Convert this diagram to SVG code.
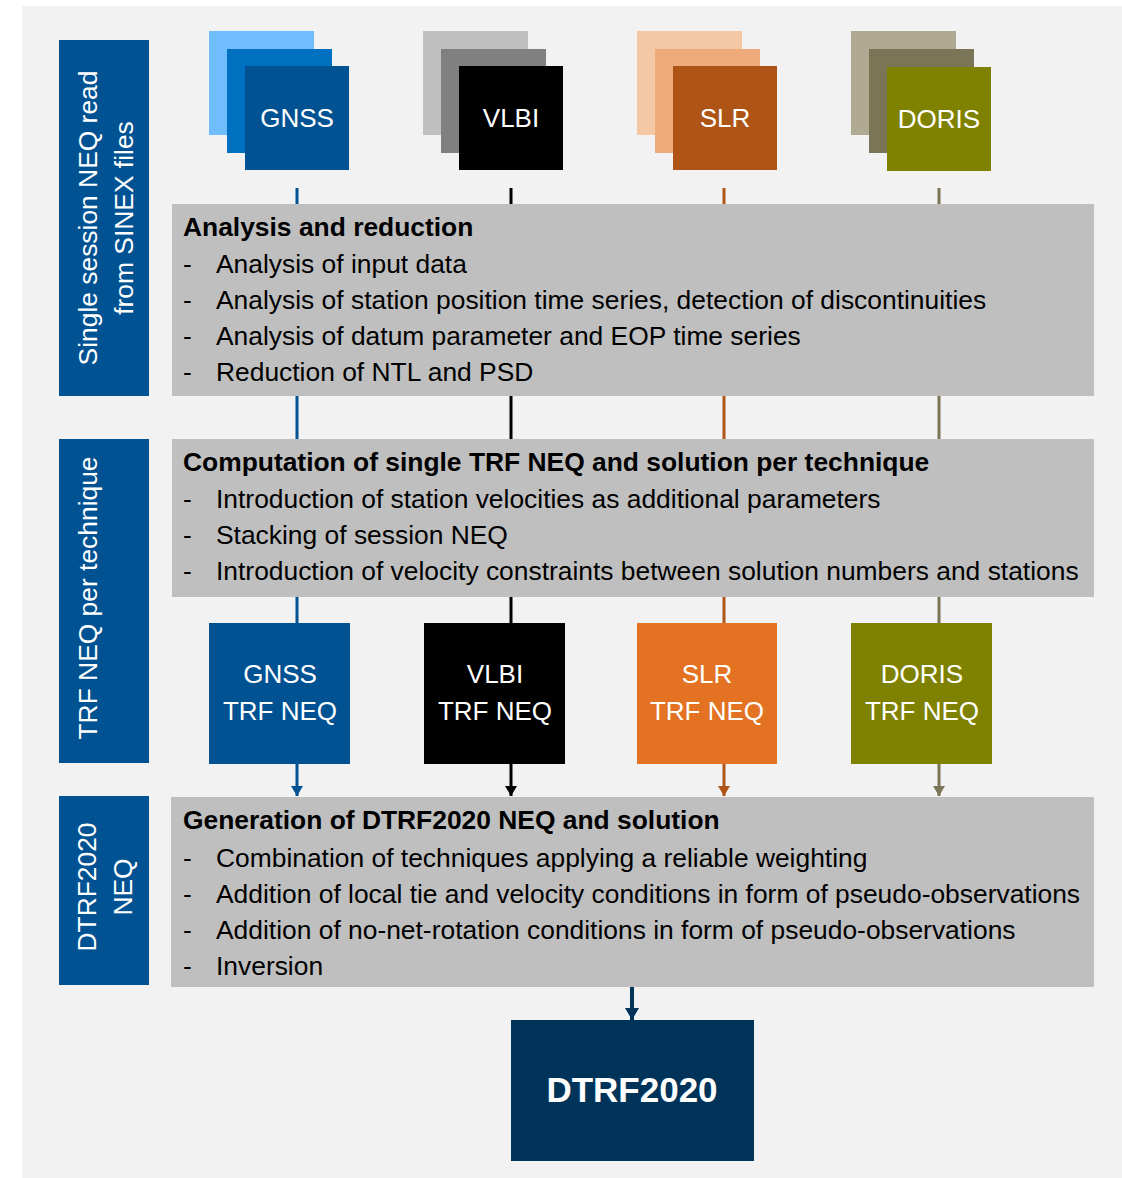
<svg xmlns="http://www.w3.org/2000/svg" width="1122" height="1178" viewBox="0 0 1122 1178">
<defs>
<style>
text{font-family:"Liberation Sans",Arial,sans-serif;}
.wc{fill:#fff;font-size:26px;text-anchor:middle;}
.wl{fill:#fff;font-size:26.4px;text-anchor:middle;}
.b{fill:#000;font-size:26.4px;}
.bt{fill:#000;font-size:26.4px;font-weight:bold;}
.gray{fill:#bfbfbf;}
.lbl{fill:#005293;}
.ln{stroke-width:3;fill:none;}
</style>
<marker id="aG" markerUnits="userSpaceOnUse" markerWidth="12" markerHeight="12" refX="10" refY="6" orient="auto"><path d="M0,0 L10,6 L0,12 Z" fill="#005293"/></marker>
<marker id="aV" markerUnits="userSpaceOnUse" markerWidth="12" markerHeight="12" refX="10" refY="6" orient="auto"><path d="M0,0 L10,6 L0,12 Z" fill="#000"/></marker>
<marker id="aS" markerUnits="userSpaceOnUse" markerWidth="12" markerHeight="12" refX="10" refY="6" orient="auto"><path d="M0,0 L10,6 L0,12 Z" fill="#ae5416"/></marker>
<marker id="aD" markerUnits="userSpaceOnUse" markerWidth="12" markerHeight="12" refX="10" refY="6" orient="auto"><path d="M0,0 L10,6 L0,12 Z" fill="#7b7558"/></marker>
<marker id="aT" markerUnits="userSpaceOnUse" markerWidth="14" markerHeight="14" refX="12" refY="7" orient="auto"><path d="M0,0 L12,7 L0,14 Z" fill="#003359"/></marker>
</defs>
<rect x="22" y="6" width="1100" height="1172" fill="#f2f2f2"/>

<g id="connectors">
<g stroke="#005293" class="ln">
<line x1="297" y1="188" x2="297" y2="204"/>
<line x1="297" y1="396" x2="297" y2="439"/>
<line x1="297" y1="597" x2="297" y2="623"/>
<line x1="297" y1="764" x2="297" y2="796" marker-end="url(#aG)"/>
</g>
<g stroke="#000" class="ln">
<line x1="511" y1="188" x2="511" y2="204"/>
<line x1="511" y1="396" x2="511" y2="439"/>
<line x1="511" y1="597" x2="511" y2="623"/>
<line x1="511" y1="764" x2="511" y2="796" marker-end="url(#aV)"/>
</g>
<g stroke="#ae5416" class="ln">
<line x1="724" y1="188" x2="724" y2="204"/>
<line x1="724" y1="396" x2="724" y2="439"/>
<line x1="724" y1="597" x2="724" y2="623"/>
<line x1="724" y1="764" x2="724" y2="796" marker-end="url(#aS)"/>
</g>
<g stroke="#7b7558" class="ln">
<line x1="939" y1="188" x2="939" y2="204"/>
<line x1="939" y1="396" x2="939" y2="439"/>
<line x1="939" y1="597" x2="939" y2="623"/>
<line x1="939" y1="764" x2="939" y2="796" marker-end="url(#aD)"/>
</g>
<line x1="632" y1="987" x2="632" y2="1020" stroke="#003359" stroke-width="4" marker-end="url(#aT)"/>
</g>

<g id="label-sinex">
<rect class="lbl" x="59" y="40" width="90" height="356"/>
<text class="wl" transform="translate(97,218) rotate(-90)">Single session NEQ read</text>
<text class="wl" transform="translate(133,218) rotate(-90)">from SINEX files</text>
</g>
<g id="label-trf">
<rect class="lbl" x="59" y="439" width="90" height="324"/>
<text class="wl" transform="translate(97,598) rotate(-90)">TRF NEQ per technique</text>
</g>
<g id="label-dtrf">
<rect class="lbl" x="59" y="796" width="90" height="189"/>
<text class="wl" transform="translate(96,887) rotate(-90)">DTRF2020</text>
<text class="wl" transform="translate(132,887) rotate(-90)">NEQ</text>
</g>

<g id="gnss-stack">
<rect x="209" y="31" width="105" height="104" fill="#6fbdff"/>
<rect x="227" y="49" width="105" height="104" fill="#0070c0"/>
<rect x="245" y="66" width="104" height="104" fill="#005293"/>
<text class="wc" x="297" y="127">GNSS</text>
</g>
<g id="vlbi-stack">
<rect x="423" y="31" width="105" height="104" fill="#bfbfbf"/>
<rect x="441" y="49" width="105" height="104" fill="#808080"/>
<rect x="459" y="66" width="104" height="104" fill="#000"/>
<text class="wc" x="511" y="127">VLBI</text>
</g>
<g id="slr-stack">
<rect x="637" y="31" width="105" height="104" fill="#f4c7a5"/>
<rect x="655" y="49" width="105" height="104" fill="#eeaa7b"/>
<rect x="673" y="66" width="104" height="104" fill="#ae5416"/>
<text class="wc" x="725" y="127">SLR</text>
</g>
<g id="doris-stack">
<rect x="851" y="31" width="105" height="104" fill="#b0aa92"/>
<rect x="869" y="49" width="105" height="104" fill="#7b7558"/>
<rect x="887" y="67" width="104" height="104" fill="#7f8200"/>
<text class="wc" x="939" y="128">DORIS</text>
</g>

<g id="analysis">
<rect class="gray" x="172" y="204" width="922" height="192"/>
<text class="bt" x="183" y="236">Analysis and reduction</text>
<text class="b" x="183" y="273">-</text><text class="b" x="216" y="273">Analysis of input data</text>
<text class="b" x="183" y="309">-</text><text class="b" x="216" y="309">Analysis of station position time series, detection of discontinuities</text>
<text class="b" x="183" y="345">-</text><text class="b" x="216" y="345">Analysis of datum parameter and EOP time series</text>
<text class="b" x="183" y="381">-</text><text class="b" x="216" y="381">Reduction of NTL and PSD</text>
</g>

<g id="computation">
<rect class="gray" x="172" y="439" width="922" height="158"/>
<text class="bt" x="183" y="471">Computation of single TRF NEQ and solution per technique</text>
<text class="b" x="183" y="508">-</text><text class="b" x="216" y="508">Introduction of station velocities as additional parameters</text>
<text class="b" x="183" y="544">-</text><text class="b" x="216" y="544">Stacking of session NEQ</text>
<text class="b" x="183" y="580">-</text><text class="b" x="216" y="580">Introduction of velocity constraints between solution numbers and stations</text>
</g>

<g id="gnss-trf">
<rect x="209" y="623" width="141" height="141" fill="#005293"/>
<text class="wc" x="280" y="683">GNSS</text>
<text class="wc" x="280" y="720">TRF NEQ</text>
</g>
<g id="vlbi-trf">
<rect x="424" y="623" width="141" height="141" fill="#000"/>
<text class="wc" x="495" y="683">VLBI</text>
<text class="wc" x="495" y="720">TRF NEQ</text>
</g>
<g id="slr-trf">
<rect x="637" y="623" width="140" height="141" fill="#e37222"/>
<text class="wc" x="707" y="683">SLR</text>
<text class="wc" x="707" y="720">TRF NEQ</text>
</g>
<g id="doris-trf">
<rect x="851" y="623" width="141" height="141" fill="#7f8200"/>
<text class="wc" x="922" y="683">DORIS</text>
<text class="wc" x="922" y="720">TRF NEQ</text>
</g>

<g id="generation">
<rect class="gray" x="171" y="797" width="923" height="190"/>
<text class="bt" x="183" y="829">Generation of DTRF2020 NEQ and solution</text>
<text class="b" x="183" y="867">-</text><text class="b" x="216" y="867">Combination of techniques applying a reliable weighting</text>
<text class="b" x="183" y="903">-</text><text class="b" x="216" y="903">Addition of local tie and velocity conditions in form of pseudo-observations</text>
<text class="b" x="183" y="939">-</text><text class="b" x="216" y="939">Addition of no-net-rotation conditions in form of pseudo-observations</text>
<text class="b" x="183" y="975">-</text><text class="b" x="216" y="975">Inversion</text>
</g>

<g id="dtrf2020">
<rect x="511" y="1020" width="243" height="141" fill="#003359"/>
<text x="632" y="1102" fill="#fff" font-size="35" font-weight="bold" text-anchor="middle">DTRF2020</text>
</g>
</svg>
